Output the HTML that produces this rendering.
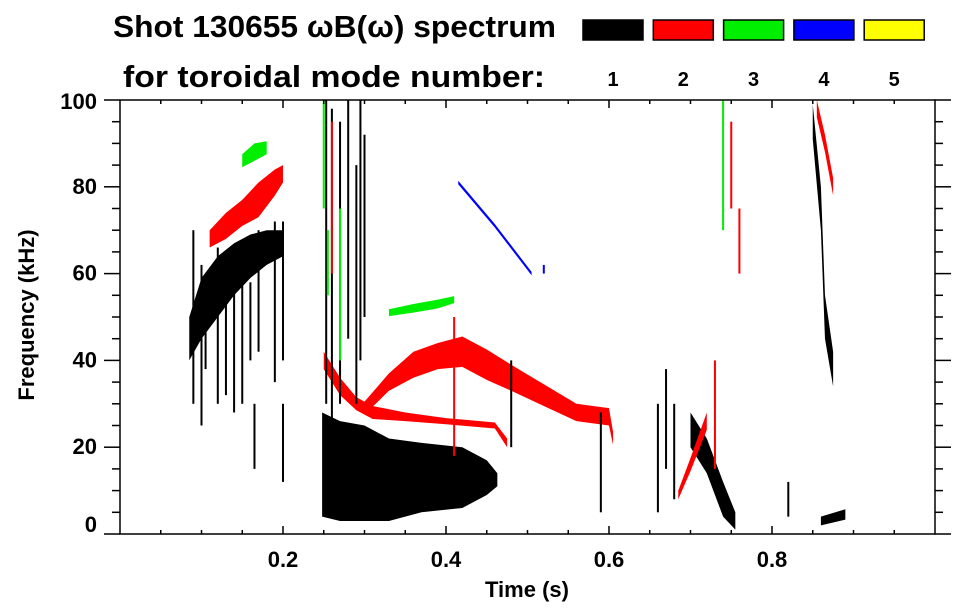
<!DOCTYPE html>
<html><head><meta charset="utf-8"><style>
body{margin:0;background:#fff;}
svg{display:block;font-family:"Liberation Sans",sans-serif;font-weight:bold;}
</style></head><body>
<svg id="chart" width="963" height="615" viewBox="0 0 963 615">
<text x="113" y="37" font-size="31" textLength="443" lengthAdjust="spacingAndGlyphs">Shot 130655 ωB(ω) spectrum</text>
<text x="123" y="87" font-size="31" textLength="422" lengthAdjust="spacingAndGlyphs">for toroidal mode number:</text>
<g id="legend"></g>
<g id="marks"></g>
<g id="axes"></g>
<text x="527" y="597" font-size="22" text-anchor="middle">Time (s)</text>
<text transform="translate(34,315) rotate(-90)" font-size="22" text-anchor="middle">Frequency (kHz)</text>
</svg>
<script>
const modeLabels=["1","2","3","4","5"];
const modeColors=["#000000","#ff0000","#00ee00","#0000ff","#ffff00"];
const xTicks=[0.2,0.4,0.6,0.8];
const yTicks=[0,20,40,60,80,100];
const bandBlack1T=[0.085,0.1,0.12,0.14,0.16,0.18,0.2];
const bandBlack1F=[45,52,57,61,64,66,67];
const bandBlack1W=[5,7,7,6,5,4,3];
const bandRed1T=[0.11,0.13,0.15,0.17,0.19,0.2];
const bandRed1F=[68,71,74,77,81,83];
const bandRed1W=[2,3,3,4,3,2];
const bandGreen1T=[0.15,0.165,0.18];
const bandGreen1F=[86,88,89];
const bandGreen1W=[1.5,2,1.5];
const blobBlackT=[0.248,0.27,0.3,0.33,0.37,0.42,0.45,0.463];
const blobBlackTop=[28,26,25,22,21,20,17,14];
const blobBlackBot=[4,3,3,3,5,6,9,11];
const bandRedLowT=[0.25,0.27,0.29,0.31,0.35,0.4,0.43,0.46,0.475];
const bandRedLowF=[40,34,30,28,27,26,25.5,25,21];
const bandRedLowW=[2,2,1.5,1.5,1,0.7,0.7,0.7,1];
const bandRedMainT=[0.3,0.33,0.36,0.39,0.42,0.45,0.48,0.52,0.56,0.6,0.605];
const bandRedMainF=[29,35,39,41,42,39,36,32,28,27,22];
const bandRedMainW=[1.5,2,3,3,3.5,3.5,3,2.5,2,2,1.5];
const bandGreen2T=[0.33,0.36,0.39,0.41];
const bandGreen2F=[51,52,53,54];
const bandGreen2W=[0.8,1,1,0.8];
const bandBlueT=[0.415,0.46,0.505];
const bandBlueF=[81,71,60];
const bandBlueW=[0.4,0.4,0.4];
const bandBlack2T=[0.7,0.72,0.74,0.755];
const bandBlack2F=[24,18,8,3];
const bandBlack2W=[4,4,4,2];
const bandRed2T=[0.685,0.7,0.72];
const bandRed2F=[9,16,26];
const bandRed2W=[1,1.5,2];
const bandBlack3T=[0.85,0.86,0.865,0.875];
const bandBlack3F=[95,75,50,38];
const bandBlack3W=[4,5,5,4];
const bandRed3T=[0.855,0.865,0.875];
const bandRed3F=[98,90,80];
const bandRed3W=[2,2,2];
const bandBlack4T=[0.86,0.89];
const bandBlack4F=[3,4.5];
const bandBlack4W=[1,1.2];
const streakT=[0.09,0.1,0.105,0.12,0.13,0.14,0.15,0.16,0.17,0.19,0.2,0.253,0.26,0.27,0.28,0.29,0.295,0.3,0.25,0.255,0.26,0.27,0.41,0.52,0.59,0.66,0.67,0.68,0.73,0.74,0.75,0.76,0.48,0.82,0.165,0.2];
const streakLo=[30,25,38,30,32,28,30,40,42,35,40,30,25,30,45,30,40,50,75,55,60,40,18,60,5,5,15,8,15,70,75,60,20,4,15,12];
const streakHi=[70,62,58,66,62,60,62,58,70,72,72,100,98,95,100,85,100,92,100,70,95,75,50,62,28,30,38,30,40,100,95,75,40,12,30,30];
const streakMode=[0,0,0,0,0,0,0,0,0,0,0,0,0,0,0,0,0,0,2,2,1,2,1,3,0,0,0,0,1,2,1,1,0,0,0,0];

const X0=120,X1=935,Y0=534,Y1=100;
const xs=t=>X0+t*(X1-X0);
const ys=f=>Y0-f/100*(Y0-Y1);
const NS="http://www.w3.org/2000/svg";
const marks=document.getElementById('marks');
const axes=document.getElementById('axes');
const leg=document.getElementById('legend');
function mk(tag,attrs,parent){const e=document.createElementNS(NS,tag);for(const k in attrs)e.setAttribute(k,attrs[k]);parent.appendChild(e);return e;}

function band(T,F,W,mode,name){
  const up=T.map((t,i)=>xs(t)+','+ys(F[i]+W[i]));
  const dn=T.map((t,i)=>xs(t)+','+ys(F[i]-W[i])).reverse();
  const p=mk('polygon',{points:up.concat(dn).join(' '),fill:modeColors[mode]},marks);
  
  
}
function blob(T,Top,Bot,mode,name){
  const up=T.map((t,i)=>xs(t)+','+ys(Top[i]));
  const dn=T.map((t,i)=>xs(t)+','+ys(Bot[i])).reverse();
  const p=mk('polygon',{points:up.concat(dn).join(' '),fill:modeColors[mode]},marks);
  
  
}
band(bandBlack1T,bandBlack1F,bandBlack1W,0,'mode1-early-band');
band(bandRed1T,bandRed1F,bandRed1W,1,'mode2-early-band');
band(bandGreen1T,bandGreen1F,bandGreen1W,2,'mode3-early-band');
blob(blobBlackT,blobBlackTop,blobBlackBot,0,'mode1-low-blob');
band(bandRedLowT,bandRedLowF,bandRedLowW,1,'mode2-low-branch');
band(bandRedMainT,bandRedMainF,bandRedMainW,1,'mode2-main-arc');
band(bandGreen2T,bandGreen2F,bandGreen2W,2,'mode3-mid-band');
band(bandBlueT,bandBlueF,bandBlueW,3,'mode4-chirp');
band(bandBlack2T,bandBlack2F,bandBlack2W,0,'mode1-late-band');
band(bandRed2T,bandRed2F,bandRed2W,1,'mode2-late-band');
band(bandBlack3T,bandBlack3F,bandBlack3W,0,'mode1-end-band');
band(bandRed3T,bandRed3F,bandRed3W,1,'mode2-end-band');
band(bandBlack4T,bandBlack4F,bandBlack4W,0,'mode1-end-low');
streakT.forEach((t,i)=>{
  const r=mk('rect',{x:xs(t)-1,y:ys(streakHi[i]),width:2,height:ys(streakLo[i])-ys(streakHi[i]),fill:modeColors[streakMode[i]]},marks);
  
  
});

const fr=mk('rect',{x:X0,y:Y1,width:X1-X0,height:Y0-Y1,fill:'none',stroke:'#000','stroke-width':1.5},axes);


for(let i=1;i<20;i++){
  const t=i*0.05,x=xs(t),maj=(i%4===0);
  const l=maj?8:4;
  mk('line',{x1:x,y1:Y0,x2:x,y2:Y0-l,stroke:'#000','stroke-width':1.5},axes);
  mk('line',{x1:x,y1:Y1,x2:x,y2:Y1+l,stroke:'#000','stroke-width':1.5},axes);
}
xTicks.forEach(t=>{
  const e=mk('text',{x:xs(t),y:Y0+33,'font-size':22,'text-anchor':'middle'},axes);
  e.textContent=t.toFixed(1);
  
  
});
for(let f=0;f<=100;f+=5){
  const y=ys(f),maj=(f%20===0);
  mk('line',{x1:X0,y1:y,x2:X0-(maj?16:8),y2:y,stroke:'#000','stroke-width':1.5},axes);
  mk('line',{x1:X1,y1:y,x2:X1+(maj?16:8),y2:y,stroke:'#000','stroke-width':1.5},axes);
}
yTicks.forEach(f=>{
  const e=mk('text',{x:97,y:ys(f)+(f===0?-2:f===100?9:7),'font-size':22,'text-anchor':'end'},axes);
  e.textContent=f;
  
  
});
modeLabels.forEach((m,i)=>{
  const x=583+i*70.3;
  const r=mk('rect',{x:x,y:20,width:60,height:20,fill:modeColors[i],stroke:'#000','stroke-width':1.5},leg);
  
  
  const e=mk('text',{x:x+30,y:86,'font-size':20,'text-anchor':'middle'},leg);
  e.textContent=m;
  
  
});
</script>
</body></html>
